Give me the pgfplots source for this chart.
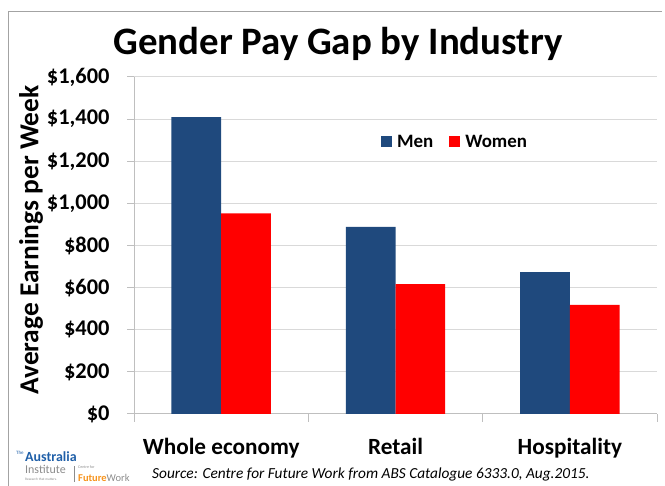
\documentclass[border=0pt]{standalone}
\usepackage{fontspec}
\setmainfont{Carlito}
\usepackage{pgfplots}
\pgfplotsset{compat=1.18}
\definecolor{menblue}{HTML}{1F497D}
\definecolor{womenred}{HTML}{FF0000}
\definecolor{gridgray}{HTML}{D9D9D9}
\definecolor{axgray}{HTML}{BFBFBF}
\definecolor{taiblue}{HTML}{1F5FA8}
\definecolor{taigray}{HTML}{8C8C8C}
\definecolor{cfworange}{HTML}{F7941D}
\begin{document}
\begin{tikzpicture}[x=1bp,y=1bp]
\useasboundingbox (0,0) rectangle (665,486);
\draw[color=taigray!80, line width=1bp] (8,0) -- (8,474) -- (662,474);
\begin{axis}[
  at={(134bp,72bp)}, anchor=south west,
  scale only axis, width=523bp, height=337bp,
  xmin=0, xmax=3, ymin=0, ymax=1600,
  ybar=0pt, bar width=0.285,
  axis x line*=bottom, axis y line*=left,
  axis line style={axgray, line width=1bp},
  xtick={0.5,1.5,2.5},
  xticklabels={Whole economy,Retail,Hospitality},
  major x tick style={draw=none},
  minor xtick={0,1,2,3},
  minor x tick style={axgray, line width=1bp},
  minor tick length=8bp,
  ytick={0,200,...,1600},
  yticklabels={\$0,\$200,\$400,\$600,\$800,{\$1,000},{\$1,200},{\$1,400},{\$1,600}},
  major y tick style={axgray, line width=1bp},
  major tick length=7bp,
  tick align=outside,
  ymajorgrids, grid style={gridgray, line width=1bp},
  xticklabel style={font=\bfseries\fontsize{23.3}{23.3}\selectfont, yshift=-14bp},
  yticklabel style={font=\bfseries\fontsize{22.5}{22.5}\selectfont, xshift=-14bp},
  legend style={at={(0.614,0.807)}, anchor=center, draw=none, fill=none,
    legend columns=2, font=\bfseries\fontsize{19}{19}\selectfont,
    /tikz/every even column/.append style={column sep=14bp}},
  legend image code/.code={\fill[#1] (0bp,-5bp) rectangle (11bp,6bp);},
  legend cell align=left,
]
\addplot[fill=menblue, draw=none] coordinates {(0.5,1409) (1.5,888) (2.5,674)};
\addplot[fill=womenred, draw=none] coordinates {(0.5,953) (1.5,617) (2.5,518)};
\legend{\hspace{3bp}Men,\hspace{3bp}Women}
\end{axis}
\node[font=\bfseries\fontsize{39}{39}\selectfont, anchor=base] at (338,431) {Gender Pay Gap by Industry};
\node[font=\bfseries\fontsize{27.5}{27.5}\selectfont, rotate=90, anchor=center] at (31,246) {Average Earnings per Week};
\node[font=\itshape\fontsize{15.4}{15.4}\selectfont, anchor=base west, inner sep=0] at (152,7) {Source: Centre for Future Work from ABS Catalogue 6333.0, Aug.2015.};
% logo
\node[font=\fontsize{5}{5}\selectfont, text=taiblue, anchor=base west, inner sep=0] at (16,31) {The};
\node[font=\bfseries\fontsize{14}{14}\selectfont, text=taiblue, anchor=base west, inner sep=0] at (25,24) {Australia};
\node[font=\fontsize{12}{12}\selectfont, text=taigray, anchor=base west, inner sep=0] at (25,12.5) {Institute};
\node[font=\fontsize{3.5}{3.5}\selectfont, text=taigray, anchor=base west, inner sep=0] at (25,5.5) {Research that matters.};
\draw[taigray, line width=0.5bp] (74,4) -- (74,20);
\node[font=\fontsize{4}{4}\selectfont, text=taigray, anchor=base west, inner sep=0] at (78,17) {Centre for};
\node[font=\fontsize{10.5}{10.5}\selectfont, anchor=base west, inner sep=0] at (78,4) {\textcolor{cfworange}{\bfseries Future}\textcolor{taigray}{Work}};
\end{tikzpicture}
\end{document}
